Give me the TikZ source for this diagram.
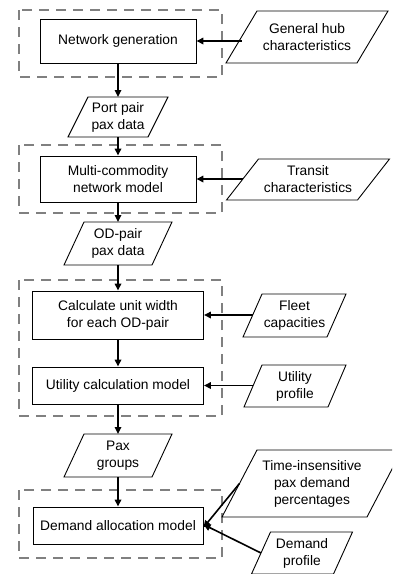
\documentclass[tikz,border=0pt]{standalone}
\usepackage{fontspec}
\setmainfont{Liberation Sans}
\usetikzlibrary{arrows.meta,calc}
\tikzset{
  txt/.style={align=center,inner sep=0pt,font=\fontsize{13.8}{17}\selectfont},
  procbox/.style={draw=black,line width=0.9pt,align=center,inner sep=0pt,font=\fontsize{13.8}{17}\selectfont},
  pgline/.style={draw=black,line width=0.9pt},
  dbox/.style={draw=black!50,line width=2pt,dash pattern=on 10pt off 7pt},
  arr/.style={draw=black,line width=1.6pt,-{Triangle[length=7pt,width=6.5pt]}},
}
\newcommand\pgram[7]{%
  \pgfmathsetmacro\PgXl{#2-#4/2}\pgfmathsetmacro\PgXr{#2+#4/2}%
  \pgfmathsetmacro\PgYt{#3-#5/2}\pgfmathsetmacro\PgYb{#3+#5/2}%
  \pgfmathsetmacro\PgS{#6/2}%
  \draw[pgline] (\PgXl-\PgS,\PgYb) -- (\PgXl+\PgS,\PgYt) -- (\PgXr+\PgS,\PgYt) -- (\PgXr-\PgS,\PgYb) -- cycle;
  \node[txt] (#1) at (#2,#3) {#7};
  \coordinate (#1-w) at (\PgXl,#3);
  \coordinate (#1-n) at (#2,\PgYt);
  \coordinate (#1-s) at (#2,\PgYb);
}
\begin{document}
\begin{tikzpicture}[x=1pt,y=-1pt]
\useasboundingbox (0,0) rectangle (392,574);
\clip (0,0) rectangle (392,574);
% dashed groups
\draw[dbox] (19,10) rectangle (222,77);
\draw[dbox] (19,145) rectangle (222,213);
\draw[dbox] (19,280) rectangle (222,416);
\draw[dbox] (19,490) rectangle (222,558);
% process boxes
\node[procbox,minimum width=156pt,minimum height=44pt] (ng) at (118,41) {Network generation};
\node[procbox,minimum width=156pt,minimum height=46pt] (mc) at (118,179) {Multi-commodity\\network model};
\node[procbox,minimum width=171pt,minimum height=48pt] (calc) at (118,315) {Calculate unit width\\for each OD-pair};
\node[procbox,minimum width=171pt,minimum height=37pt] (util) at (118,385.5) {Utility calculation model};
\node[procbox,minimum width=170pt,minimum height=37pt] (dem) at (118,525.5) {Demand allocation model};
% data parallelograms
\pgram{gh}{307}{37}{131}{52}{31}{General hub\\characteristics}
\pgram{tr}{308}{179.5}{131}{41}{32}{Transit\\characteristics}
\pgram{pp}{118}{117}{80}{40}{20}{Port pair\\pax data}
\pgram{od}{118}{243.5}{88}{43}{20}{OD-pair\\pax data}
\pgram{fc}{294.5}{315.5}{84}{43}{19}{Fleet\\capacities}
\pgram{up}{295}{386}{84}{42}{18}{Utility\\profile}
\pgram{pg}{118}{455.5}{88}{43}{20}{Pax\\groups}
\pgram{ti}{312}{483.5}{145}{67}{35}{Time-insensitive\\pax demand\\percentages}
\pgram{dp}{302}{553}{82}{42}{19}{Demand\\profile}
% connectors
\draw[arr] (ng.east -| gh-w) -- (ng.east);
\draw[arr] (mc.east -| tr-w) -- (mc.east);
\draw[arr] (calc.east -| fc-w) -- (calc.east);
\draw[arr] (util.east -| up-w) -- (util.east);
\draw[arr] (ng.south) -- (pp-n);
\draw[arr] (pp-s) -- (mc.north);
\draw[arr] (mc.south) -- (od-n);
\draw[arr] (od-s) -- (calc.north);
\draw[arr] (calc.south) -- (util.north);
\draw[arr] (util.south) -- (pg-n);
\draw[arr] (pg-s) -- (dem.north);
\draw[arr] (ti-w) -- ([yshift=-2pt]dem.east);
\draw[arr] (dp-w) -- ([yshift=1pt]dem.east);
\end{tikzpicture}
\end{document}
